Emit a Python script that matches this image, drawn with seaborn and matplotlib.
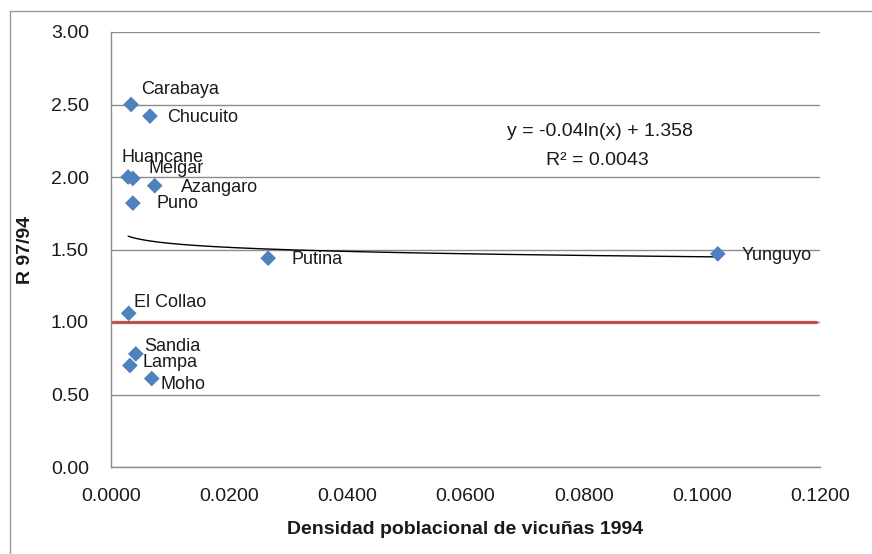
import numpy as np
import pandas as pd
import matplotlib
matplotlib.use("Agg")
import matplotlib.pyplot as plt
from matplotlib.lines import Line2D
from matplotlib.ticker import FormatStrFormatter
import seaborn as sns

# Provinces, vicuña population density in 1994 and ratio 1997/1994
provincias = ["Carabaya", "Chucuito", "Huancane", "Melgar", "Azangaro", "Puno",
              "Putina", "Yunguyo", "El Collao", "Sandia", "Lampa", "Moho"]
densidad_1994 = [0.0034, 0.0066, 0.0029, 0.0037, 0.0074, 0.0037,
                 0.0266, 0.1027, 0.0030, 0.0042, 0.0032, 0.0069]
ratio_97_94 = [2.50, 2.42, 2.00, 1.99, 1.94, 1.82,
               1.44, 1.47, 1.06, 0.78, 0.70, 0.61]

# Logarithmic trend reported on the chart: y = a*ln(x) + b
coef_a = -0.04
coef_b = 1.358
r_cuadrado = 0.0043

# Reference level (no change between years)
nivel_referencia = 1.0

x_ticks = [0.0, 0.02, 0.04, 0.06, 0.08, 0.10, 0.12]
y_ticks = [0.0, 0.5, 1.0, 1.5, 2.0, 2.5, 3.0]

# Label offsets (points) for each province name
label_offsets = [(7, 11), (12, -1), (-5, 14), (11, 7), (19, -1), (17, 0),
                 (17, -1), (17, -1), (4, 8), (6, 5), (9, 2), (6, -4)]

sns.set_theme(style="white")
plt.rcParams["font.family"] = ["Liberation Sans", "DejaVu Sans"]

df = pd.DataFrame({"provincia": provincias,
                   "densidad": densidad_1994,
                   "ratio": ratio_97_94})

W, H, DPI = 872, 554, 100
fig = plt.figure(figsize=(W / DPI, H / DPI), dpi=DPI)
ax = fig.add_axes([111 / W, 1 - 467 / H, (820 - 111) / W, (467 - 32) / H])

grid_col = "#8c8c8c"
text_col = "#1a1a1a"

# Reference line at R = 1
ax.axhline(nivel_referencia, xmin=0, xmax=0.995, color="#C0504D", lw=2.3, zorder=2)

# Trend curve over the range of observed densities
xs = np.linspace(min(densidad_1994), max(densidad_1994), 400)
ax.plot(xs, coef_a * np.log(xs) + coef_b, color="black", lw=1.0, zorder=3)

sns.scatterplot(data=df, x="densidad", y="ratio", marker="D", s=64,
                color="#4F81BD", edgecolor="none", linewidth=0, ax=ax, zorder=4)

for name, x, y, (dx, dy) in zip(provincias, densidad_1994, ratio_97_94, label_offsets):
    ax.annotate(name, (x, y), xytext=(dx, dy), textcoords="offset points",
                ha="left", va="center", fontsize=13, color=text_col, zorder=5)

ax.text(0.690, 0.772, f"y = {coef_a:.2f}ln(x) + {coef_b:.3f}", transform=ax.transAxes,
        ha="center", va="center", fontsize=14, color=text_col)
ax.text(0.686, 0.705, f"R² = {r_cuadrado:.4f}", transform=ax.transAxes,
        ha="center", va="center", fontsize=14, color=text_col)

ax.set_xlim(0, 0.12)
ax.set_ylim(0, 3.0)
ax.set_xticks(x_ticks)
ax.set_yticks(y_ticks)
ax.xaxis.set_major_formatter(FormatStrFormatter("%.4f"))
ax.yaxis.set_major_formatter(FormatStrFormatter("%.2f"))
ax.tick_params(axis="both", length=0, labelsize=14, labelcolor=text_col)
ax.tick_params(axis="y", pad=16)
ax.tick_params(axis="x", pad=15)

ax.grid(axis="y", color=grid_col, lw=1.0)
ax.grid(axis="x", visible=False)
ax.set_axisbelow(True)
for side in ["top", "right"]:
    ax.spines[side].set_visible(False)
for side in ["left", "bottom"]:
    ax.spines[side].set_color(grid_col)
    ax.spines[side].set_linewidth(1.0)

ax.set_xlabel("Densidad poblacional de vicuñas 1994", fontsize=14,
              fontweight="bold", color=text_col)
ax.set_ylabel("R 97/94", fontsize=14, fontweight="bold", color=text_col)
ax.xaxis.set_label_coords(0.5, (467 - 530) / (467 - 32))
ax.xaxis.label.set_va("center")
ax.yaxis.set_label_coords((26 - 111) / (820 - 111), 0.5)
ax.yaxis.label.set_va("center")

# Chart-area frame
frame_col = "#9a9a9a"
fig.add_artist(Line2D([10 / W, 10 / W], [0, 1 - 11 / H], transform=fig.transFigure,
                      color=frame_col, lw=1.0))
fig.add_artist(Line2D([10 / W, 1], [1 - 11 / H, 1 - 11 / H], transform=fig.transFigure,
                      color=frame_col, lw=1.0))

fig.savefig("out.png", dpi=DPI)
